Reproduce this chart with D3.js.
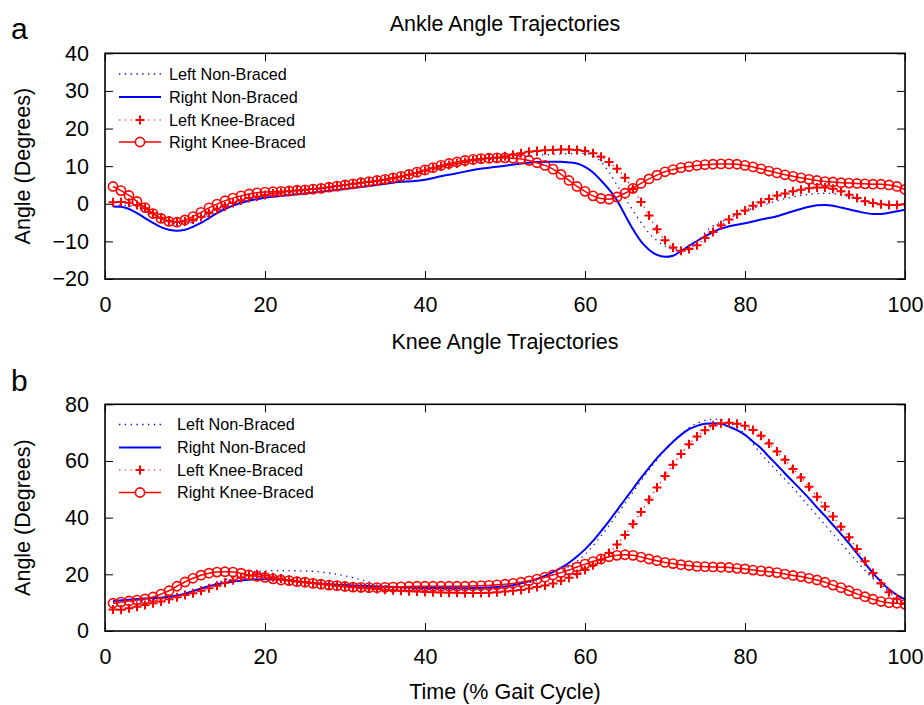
<!DOCTYPE html>
<html><head><meta charset="utf-8">
<script src="https://cdn.jsdelivr.net/npm/d3@7"></script>
<style>body{margin:0;background:#fff}svg{display:block}text{font-family:"Liberation Sans",Arial,sans-serif;fill:#000}</style>
</head><body><svg id="c" width="924" height="705"></svg>
<script>
// ---------- DATA ----------
const seriesNames = ["Left Non-Braced","Right Non-Braced","Left Knee-Braced","Right Knee-Braced"];
const xTicks = [0,20,40,60,80,100];
const ankleYTicks = [-20,-10,0,10,20,30,40];
const kneeYTicks = [0,20,40,60,80];
const markerX = d3.range(1,101); // marker samples at 1..100 % gait cycle

// Ankle - Right Knee-Braced (circles), x = 1..100
const ankleRightBraced = [4.6,3.5,2.2,0.6,-1.0,-2.6,-3.9,-4.7,-4.9,-4.3,-3.4,-2.3,-1.1,-0.1,0.8,1.5,2.1,2.6,2.9,3.1,
3.2,3.3,3.4,3.6,3.7,3.9,4.1,4.4,4.7,5.0,5.3,5.6,5.9,6.2,6.5,6.9,7.3,7.8,8.4,9.0,
9.6,10.2,10.7,11.1,11.5,11.8,12.0,12.1,12.2,12.2,12.1,11.9,11.5,10.9,10.2,9.2,7.8,6.2,4.6,3.3,
2.1,1.4,1.2,1.8,2.8,4.1,5.4,6.6,7.6,8.5,9.1,9.6,9.9,10.2,10.4,10.5,10.6,10.6,10.5,10.2,
9.8,9.3,8.7,8.2,7.7,7.3,6.9,6.5,6.2,5.9,5.8,5.6,5.5,5.4,5.3,5.2,5.2,5.0,4.6,3.8];
// Ankle - Left Knee-Braced (plus), x = 1..100
const ankleLeftBraced = [0.4,0.5,0.3,-0.3,-1.2,-2.5,-3.7,-4.5,-4.8,-4.7,-4.2,-3.5,-2.5,-1.6,-0.7,0.2,0.9,1.5,1.9,2.3,
2.7,3.0,3.3,3.5,3.7,3.9,4.1,4.4,4.7,5.0,5.3,5.6,5.8,6.0,6.3,6.7,7.2,7.7,8.2,8.8,
9.4,9.9,10.3,10.7,11.1,11.5,11.8,12.1,12.3,12.6,13.0,13.4,13.8,14.0,14.2,14.3,14.4,14.4,14.3,14.0,
13.4,12.5,11.1,9.3,6.9,3.9,0.5,-3.1,-6.8,-9.7,-11.6,-12.5,-12.0,-11.0,-9.1,-7.5,-5.7,-4.2,-2.8,-1.8,
-0.5,0.4,1.3,2.2,2.7,3.3,3.7,4.1,4.3,4.3,4.0,3.3,2.4,1.5,0.7,0.2,-0.1,-0.3,-0.3,-0.1];
// Ankle - Right Non-Braced (solid blue)
const ankleRightNonX = [1,2,3,4,5,6,7,8,9,10,11,12,13,14,15,16,18,20,25,30,34,36,40,42,44,46,48,50,52,54,56,57,58,59,60,61,62,63,64,65,66,67,68,69,70,71,72,73,74,75,76,77,78,80,82,84,86,88,89,90,91,92,94,96,97,98,100];
const ankleRightNonY = [-0.7,-0.8,-1.4,-2.5,-3.8,-5.1,-6.2,-6.9,-7.2,-6.9,-6.1,-5.1,-3.8,-2.5,-1.4,-0.5,0.8,1.6,2.7,3.9,5.0,5.6,6.4,7.3,8.1,9.0,9.6,10.1,10.7,11.1,11.2,11.2,11.0,10.7,9.8,8.3,6.2,3.8,0.9,-3.0,-6.8,-10.0,-12.2,-13.6,-14.1,-13.8,-12.6,-11.2,-9.9,-8.7,-7.5,-6.6,-6.0,-5.2,-4.2,-3.3,-2.0,-0.8,-0.4,-0.3,-0.5,-1.0,-2.0,-2.7,-2.7,-2.4,-1.6];
// Ankle - Left Non-Braced (dotted blue)
const ankleLeftNonX = [1,3,5,7,9,10,12,14,16,18,20,25,30,35,40,45,50,55,58,60,61,62,63,64,65,66,67,68,69,70,71,72,73,74,75,76,78,80,82,84,86,88,90,92,94,96,98,100];
const ankleLeftNonY = [-0.3,-0.5,-2.0,-4.0,-5.3,-5.3,-4.0,-2.0,-0.2,1.2,2.1,3.4,4.8,6.4,8.6,10.8,12.2,13.0,13.3,13.4,12.8,11.2,8.4,5.0,1.5,-1.8,-5.0,-7.8,-9.8,-11.3,-12.1,-12.3,-11.8,-10.5,-7.6,-6.0,-3.8,-2.0,-0.6,0.8,1.8,2.5,2.8,2.4,1.2,0.3,-0.2,-0.3];

// Knee - Right Knee-Braced (circles), x = 1..100
const kneeRightBraced = [9.8,10.2,10.6,10.9,11.3,12.0,13.0,14.2,15.8,17.3,18.6,19.7,20.4,20.8,20.9,20.8,20.4,19.8,19.3,18.9,
18.4,18.0,17.8,17.4,17.2,16.8,16.5,16.2,16.0,15.7,15.5,15.4,15.3,15.3,15.4,15.5,15.6,15.7,15.8,15.8,
15.8,15.8,15.8,15.8,15.8,15.9,16.0,16.1,16.3,16.5,16.8,17.2,17.7,18.3,19.0,19.8,20.6,21.5,22.6,23.6,
24.5,25.4,26.2,26.7,26.9,26.7,26.1,25.4,24.8,24.2,23.8,23.4,23.1,22.8,22.7,22.6,22.5,22.4,22.1,21.9,
21.5,21.2,20.9,20.6,20.1,19.6,19.2,18.6,18.0,17.2,16.2,15.3,14.2,13.1,12.1,11.2,10.4,10.0,9.8,9.4];
// Knee - Left Knee-Braced (plus), x = 1..100
const kneeLeftBraced = [7.6,7.5,8.0,8.6,9.2,9.8,10.4,11.2,11.9,12.7,13.3,14.2,15.1,16.0,17.0,17.9,18.8,19.6,20.0,19.6,
19.0,18.5,18.0,17.6,17.2,16.9,16.6,16.3,16.0,15.7,15.4,15.2,15.0,14.8,14.6,14.4,14.2,14.0,13.9,13.8,
13.7,13.6,13.5,13.5,13.4,13.4,13.4,13.5,13.7,13.9,14.2,14.5,15.0,15.5,16.1,16.8,17.7,18.8,20.1,21.5,
23.2,25.1,27.5,30.5,33.9,37.8,42.0,46.3,50.6,54.7,58.7,62.5,65.9,68.6,70.8,72.5,73.3,73.5,73.1,72.4,
70.9,68.9,66.2,63.3,60.4,57.2,54.2,50.9,47.4,43.9,40.4,36.8,33.1,28.9,24.6,20.5,16.8,13.7,11.5,9.8];
// Knee - Right Non-Braced (solid blue)
const kneeRightNonX = [1,3,5,8,10,12,14,16,18,20,22,25,30,35,40,45,50,52,54,56,57,58,59,60,61,62,63,64,65,66,67,68,69,70,71,72,73,74,75,76,77,78,79,80,81,82,83,84,85,86,87,88,89,90,91,92,93,94,95,96,97,98,99,100];
const kneeRightNonY = [10.6,11.0,11.5,12.1,13.2,15.0,16.5,17.4,18.1,18.3,18.1,17.2,16.2,15.6,15.2,15.1,15.7,16.8,18.4,20.8,22.3,24.1,26.3,28.8,31.8,35.2,38.8,42.6,46.4,50.2,54.0,57.6,61.0,64.0,66.8,69.2,71.2,72.4,73.1,73.3,73.1,72.1,70.9,69.2,66.8,64.5,61.5,58.6,55.6,52.7,49.8,46.8,43.6,40.6,37.4,34.2,30.9,27.4,23.9,20.4,17.4,14.7,12.7,11.2];
// Knee - Left Non-Braced (dotted blue)
const kneeLeftNonX = [1,3,5,8,10,12,14,16,18,20,22,25,27,29,31,33,35,37,40,45,50,52,54,56,58,60,62,64,66,68,70,72,73,74,75,76,77,78,79,80,82,84,86,88,90,92,94,96,98,100];
const kneeLeftNonY = [9.8,10.3,10.8,11.8,13.0,15.0,17.0,19.0,20.6,21.2,21.3,21.2,20.8,20.0,18.8,17.3,16.0,15.4,15.0,14.9,15.5,16.4,17.8,19.8,22.8,27.0,33.5,41.0,49.0,56.8,63.8,69.3,71.7,73.3,74.3,74.7,74.5,73.5,71.8,69.5,62.5,56.5,50.5,44.0,37.5,31.0,24.5,18.5,14.0,11.0];

// ---------- DRAW ----------
const svg = d3.select("#c");
const BLUE = "#0000ff", RED = "#ff0000";
const X0 = 105, X1 = 905;
const TICKFS = 21.5, LABFS = 21.5, LEGFS = 16.2;

function panel(o){
  const g = svg.append("g");
  const x = d3.scaleLinear().domain([0,100]).range([X0,X1]);
  const y = d3.scaleLinear().domain(o.yDomain).range([o.bottom,o.top]);
  const id = "clip"+o.key;
  svg.append("clipPath").attr("id",id).append("rect")
    .attr("x",X0).attr("y",o.top).attr("width",X1-X0).attr("height",o.bottom-o.top);

  const styleAxis = sel => {
    sel.select(".domain").remove();
    sel.selectAll(".tick line").attr("stroke","#000").attr("stroke-width",1);
    sel.selectAll("text").style("font-size",TICKFS+"px").attr("font-family","Liberation Sans, Arial, sans-serif");
  };
  g.append("g").attr("transform",`translate(0,${o.bottom})`)
    .call(d3.axisBottom(x).tickValues(xTicks).tickSizeInner(-8).tickSizeOuter(0).tickPadding(18)).call(styleAxis);
  g.append("g").attr("transform",`translate(0,${o.top})`)
    .call(d3.axisTop(x).tickValues(xTicks).tickSizeInner(-8).tickSizeOuter(0).tickFormat("")).call(styleAxis);
  g.append("g").attr("transform",`translate(${X0},0)`)
    .call(d3.axisLeft(y).tickValues(o.yTicks).tickSizeInner(-8).tickSizeOuter(0).tickPadding(16).tickFormat(d=>d<0?"\u2212"+Math.abs(d):d)).call(styleAxis);
  g.append("g").attr("transform",`translate(${X1},0)`)
    .call(d3.axisRight(y).tickValues(o.yTicks).tickSizeInner(-8).tickSizeOuter(0).tickFormat("")).call(styleAxis);

  const lines = g.append("g").attr("clip-path",`url(#${id})`);
  const line = d3.line().x(d=>x(d[0])).y(d=>y(d[1])).curve(d3.curveMonotoneX);

  // Left Non-Braced: dotted blue
  lines.append("path").datum(d3.zip(o.lnX,o.lnY)).attr("d",line)
    .attr("fill","none").attr("stroke",BLUE).attr("stroke-width",1.3).attr("stroke-dasharray","1.3,4.5");
  // Right Non-Braced: solid blue
  lines.append("path").datum(d3.zip(o.rnX,o.rnY)).attr("d",line)
    .attr("fill","none").attr("stroke",BLUE).attr("stroke-width",2);
  // Left Knee-Braced: dotted red + plus markers
  const lb = d3.zip(markerX,o.lb);
  lines.append("path").datum(lb).attr("d",line)
    .attr("fill","none").attr("stroke",RED).attr("stroke-width",1.2).attr("stroke-dasharray","1.3,4.5");
  lines.append("g").selectAll("path").data(lb).join("path")
    .attr("transform",d=>`translate(${x(d[0])},${y(d[1])})`)
    .attr("d","M-4.5,0H4.5M0,-4.5V4.5").attr("stroke",RED).attr("stroke-width",2).attr("fill","none");
  // Right Knee-Braced: solid red + circles
  const rb = d3.zip(markerX,o.rb);
  lines.append("path").datum(rb).attr("d",line)
    .attr("fill","none").attr("stroke",RED).attr("stroke-width",1.5);
  lines.append("g").selectAll("circle").data(rb).join("circle")
    .attr("cx",d=>x(d[0])).attr("cy",d=>y(d[1])).attr("r",4.6)
    .attr("fill","none").attr("stroke",RED).attr("stroke-width",1.6);

  // frame
  g.append("rect").attr("x",X0).attr("y",o.top).attr("width",X1-X0).attr("height",o.bottom-o.top)
    .attr("fill","none").attr("stroke","#000").attr("stroke-width",1.6);

  // legend
  const lg = g.append("g");
  const rows = lg.selectAll("g").data(seriesNames).join("g")
    .attr("transform",(d,i)=>`translate(0,${o.legY[i]})`);
  rows.append("line").attr("x1",119).attr("x2",161).attr("y1",0).attr("y2",0)
    .attr("stroke",(d,i)=>i<2?BLUE:RED)
    .attr("stroke-width",(d,i)=>i===0?1.3:i===2?1.2:i===1?2:1.5)
    .attr("stroke-dasharray",(d,i)=>(i===0||i===2)?"1.3,4.5":null);
  rows.filter((d,i)=>i===2).append("path").attr("d","M135.5,0H144.5M140,-4.5V4.5")
    .attr("stroke",RED).attr("stroke-width",2);
  rows.filter((d,i)=>i===3).append("circle").attr("cx",140).attr("cy",0).attr("r",4.6)
    .attr("fill","#fff").attr("stroke",RED).attr("stroke-width",1.6);
  rows.append("text").attr("x",o.legTextX).attr("y",0).attr("dy","0.35em")
    .style("font-size",LEGFS+"px").text(d=>d);

  // titles
  g.append("text").attr("x",505).attr("y",o.titleY).attr("text-anchor","middle")
    .style("font-size",LABFS+"px").text(o.title);
  g.append("text").attr("x",11).attr("y",o.letterY).style("font-size","30px").text(o.letter);
  g.append("text").attr("transform",`translate(30,${(o.top+o.bottom)/2}) rotate(-90)`)
    .attr("text-anchor","middle").style("font-size",LABFS+"px").text("Angle (Degrees)");
}

panel({key:"a", top:53.3, bottom:279, yDomain:[-20,40], yTicks:ankleYTicks,
  lnX:ankleLeftNonX, lnY:ankleLeftNonY, rnX:ankleRightNonX, rnY:ankleRightNonY,
  lb:ankleLeftBraced, rb:ankleRightBraced,
  legY:[74,97,120,142], legTextX:169, title:"Ankle Angle Trajectories", titleY:31, letter:"a", letterY:39});
panel({key:"b", top:404.3, bottom:631, yDomain:[0,80], yTicks:kneeYTicks,
  lnX:kneeLeftNonX, lnY:kneeLeftNonY, rnX:kneeRightNonX, rnY:kneeRightNonY,
  lb:kneeLeftBraced, rb:kneeRightBraced,
  legY:[424.5,447.5,470,492.5], legTextX:177, title:"Knee Angle Trajectories", titleY:349, letter:"b", letterY:391});

svg.append("text").attr("x",505).attr("y",699).attr("text-anchor","middle")
  .style("font-size",LABFS+"px").text("Time (% Gait Cycle)");
</script></body></html>
